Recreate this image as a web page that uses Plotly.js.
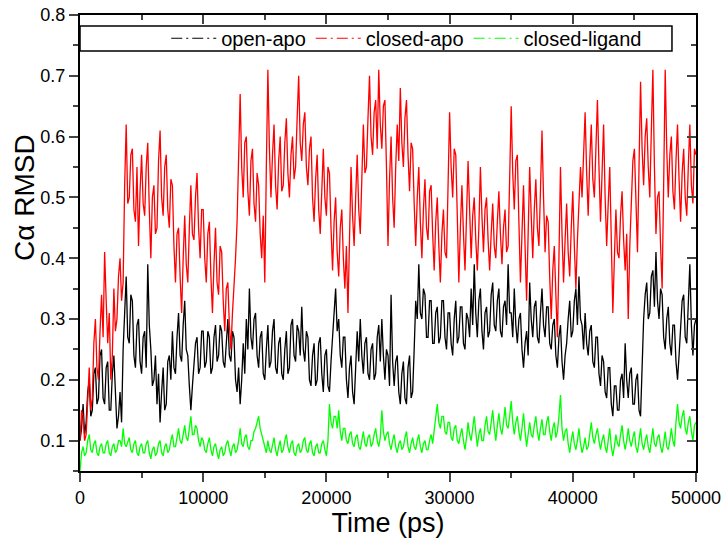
<!DOCTYPE html>
<html>
<head>
<meta charset="utf-8">
<script src="https://cdn.plot.ly/plotly-3.0.1.min.js"></script>
<style>
  body { margin: 0; background: #fff; }
  #the_plot { width: 726px; height: 550px; }
</style>
</head>
<body>
<div id="the_plot"></div>
<script>
// sampling step of the readings (ps)
var step = 125

// values, one every 125 ps from 0 to 50000 (one line = 5000 ps)
var openApo = [
  0.10,0.12,0.16,0.11,0.13,0.18,0.20,0.14,0.15,0.21,0.22,0.16,0.17,0.24,0.25,0.17,0.16,0.22,0.23,0.15,0.15,0.21,0.24,0.17,0.12,0.14,0.18,0.13,0.25,0.31,0.37,0.27,0.26,0.34,0.33,0.24,0.22,0.29,0.30,0.23,
  0.21,0.27,0.28,0.22,0.39,0.29,0.25,0.19,0.20,0.24,0.16,0.21,0.13,0.18,0.22,0.15,0.16,0.23,0.24,0.20,0.28,0.22,0.21,0.27,0.31,0.24,0.23,0.29,0.33,0.25,0.24,0.19,0.15,0.19,0.22,0.26,0.27,0.21,0.22,0.28,
  0.28,0.22,0.23,0.28,0.27,0.21,0.22,0.27,0.29,0.23,0.24,0.29,0.28,0.23,0.22,0.27,0.30,0.24,0.23,0.28,0.27,0.20,0.18,0.22,0.16,0.20,0.26,0.21,0.30,0.25,0.35,0.27,0.25,0.30,0.31,0.24,0.22,0.27,0.28,0.21,
  0.20,0.25,0.29,0.22,0.23,0.28,0.30,0.22,0.21,0.26,0.27,0.21,0.20,0.25,0.28,0.21,0.22,0.29,0.30,0.24,0.23,0.29,0.28,0.24,0.32,0.25,0.23,0.28,0.27,0.20,0.19,0.24,0.26,0.19,0.20,0.26,0.27,0.21,0.18,0.24,
  0.25,0.19,0.18,0.23,0.27,0.31,0.35,0.28,0.30,0.24,0.22,0.27,0.27,0.20,0.17,0.22,0.24,0.18,0.16,0.22,0.28,0.23,0.30,0.24,0.21,0.26,0.27,0.21,0.20,0.25,0.26,0.20,0.21,0.27,0.29,0.23,0.30,0.24,0.20,0.25,
  0.24,0.19,0.34,0.23,0.19,0.23,0.24,0.18,0.16,0.21,0.23,0.17,0.16,0.22,0.24,0.17,0.18,0.25,0.33,0.30,0.39,0.31,0.30,0.35,0.34,0.27,0.27,0.33,0.33,0.26,0.26,0.31,0.32,0.26,0.27,0.33,0.33,0.27,0.25,0.31,
  0.31,0.26,0.24,0.30,0.33,0.26,0.27,0.32,0.32,0.26,0.25,0.31,0.30,0.27,0.35,0.29,0.39,0.31,0.27,0.33,0.35,0.28,0.25,0.31,0.32,0.27,0.28,0.34,0.36,0.29,0.28,0.33,0.35,0.28,0.27,0.32,0.33,0.29,0.39,0.31,
  0.31,0.27,0.35,0.29,0.26,0.30,0.31,0.25,0.22,0.26,0.28,0.24,0.36,0.30,0.27,0.32,0.33,0.27,0.26,0.31,0.35,0.29,0.27,0.32,0.32,0.26,0.25,0.29,0.30,0.24,0.22,0.27,0.29,0.23,0.20,0.24,0.26,0.30,0.33,0.27,
  0.28,0.33,0.35,0.29,0.37,0.30,0.29,0.25,0.31,0.26,0.24,0.28,0.29,0.23,0.22,0.27,0.27,0.21,0.19,0.24,0.23,0.18,0.17,0.22,0.22,0.16,0.14,0.19,0.19,0.15,0.15,0.20,0.21,0.17,0.26,0.20,0.17,0.21,0.22,0.16,
  0.16,0.20,0.21,0.15,0.14,0.22,0.30,0.34,0.36,0.30,0.31,0.37,0.38,0.32,0.41,0.33,0.30,0.35,0.34,0.27,0.25,0.30,0.32,0.26,0.24,0.29,0.29,0.23,0.20,0.24,0.28,0.33,0.34,0.27,0.26,0.32,0.39,0.29,0.24,0.29,
  0.30
]
var closedApo = [
  0.10,0.15,0.14,0.10,0.11,0.18,0.22,0.15,0.17,0.26,0.30,0.22,0.20,0.28,0.34,0.27,0.41,0.33,0.26,0.31,0.20,0.24,0.35,0.28,0.30,0.37,0.40,0.33,0.36,0.52,0.62,0.49,0.50,0.57,0.58,0.48,0.46,0.55,0.42,0.51,
  0.57,0.49,0.47,0.55,0.59,0.48,0.40,0.50,0.52,0.44,0.45,0.56,0.61,0.50,0.47,0.55,0.57,0.48,0.45,0.53,0.52,0.42,0.36,0.44,0.45,0.37,0.31,0.40,0.47,0.39,0.36,0.45,0.52,0.44,0.43,0.50,0.54,0.45,0.40,0.48,
  0.48,0.40,0.36,0.44,0.46,0.37,0.31,0.39,0.45,0.36,0.34,0.42,0.41,0.33,0.28,0.35,0.36,0.29,0.25,0.31,0.35,0.40,0.46,0.58,0.67,0.55,0.50,0.59,0.60,0.51,0.47,0.56,0.58,0.49,0.46,0.54,0.52,0.44,0.40,0.47,
  0.36,0.55,0.71,0.58,0.50,0.57,0.62,0.52,0.48,0.56,0.60,0.51,0.52,0.59,0.63,0.54,0.50,0.57,0.60,0.53,0.55,0.63,0.70,0.59,0.56,0.62,0.64,0.55,0.52,0.58,0.60,0.50,0.46,0.53,0.57,0.48,0.44,0.51,0.58,0.50,
  0.47,0.55,0.54,0.45,0.38,0.46,0.50,0.41,0.37,0.45,0.48,0.40,0.35,0.42,0.31,0.43,0.55,0.47,0.42,0.50,0.57,0.48,0.44,0.53,0.62,0.54,0.55,0.63,0.70,0.60,0.57,0.64,0.66,0.58,0.71,0.62,0.58,0.65,0.66,0.55,
  0.42,0.53,0.60,0.50,0.45,0.55,0.62,0.56,0.68,0.59,0.55,0.63,0.66,0.57,0.51,0.59,0.58,0.49,0.42,0.50,0.55,0.46,0.40,0.48,0.53,0.45,0.43,0.51,0.52,0.44,0.38,0.46,0.50,0.42,0.36,0.44,0.48,0.41,0.40,0.52,
  0.64,0.55,0.50,0.58,0.57,0.47,0.36,0.45,0.52,0.44,0.38,0.47,0.56,0.48,0.40,0.47,0.50,0.43,0.38,0.45,0.55,0.47,0.41,0.48,0.50,0.43,0.38,0.44,0.49,0.42,0.40,0.46,0.51,0.44,0.39,0.45,0.48,0.41,0.42,0.53,
  0.65,0.54,0.48,0.56,0.57,0.46,0.36,0.44,0.52,0.42,0.33,0.44,0.55,0.47,0.40,0.48,0.53,0.45,0.42,0.51,0.61,0.50,0.41,0.47,0.46,0.37,0.30,0.38,0.42,0.34,0.27,0.40,0.55,0.44,0.36,0.43,0.49,0.41,0.37,0.45,
  0.51,0.42,0.35,0.43,0.48,0.55,0.50,0.58,0.64,0.54,0.47,0.56,0.62,0.53,0.50,0.58,0.66,0.55,0.46,0.54,0.62,0.50,0.42,0.49,0.55,0.43,0.31,0.40,0.48,0.41,0.40,0.47,0.51,0.43,0.38,0.44,0.30,0.42,0.50,0.56,
  0.58,0.48,0.41,0.55,0.69,0.58,0.52,0.60,0.63,0.55,0.50,0.61,0.71,0.55,0.44,0.50,0.51,0.42,0.35,0.52,0.71,0.58,0.50,0.57,0.60,0.51,0.48,0.56,0.62,0.53,0.46,0.54,0.58,0.50,0.47,0.55,0.62,0.52,0.49,0.58,
  0.57
]
var closedLigand = [
  0.05,0.08,0.09,0.075,0.08,0.10,0.11,0.085,0.08,0.095,0.10,0.08,0.075,0.09,0.095,0.08,0.08,0.095,0.10,0.08,0.075,0.09,0.095,0.08,0.085,0.10,0.10,0.09,0.12,0.095,0.09,0.10,0.105,0.085,0.08,0.095,0.10,0.08,0.075,0.09,
  0.095,0.08,0.08,0.095,0.10,0.08,0.07,0.085,0.09,0.075,0.08,0.095,0.10,0.08,0.075,0.09,0.095,0.08,0.085,0.10,0.11,0.09,0.09,0.105,0.12,0.10,0.095,0.11,0.125,0.105,0.10,0.12,0.14,0.11,0.11,0.125,0.12,0.10,0.09,0.105,
  0.10,0.085,0.08,0.095,0.105,0.085,0.075,0.09,0.095,0.08,0.07,0.085,0.09,0.075,0.08,0.095,0.10,0.085,0.075,0.09,0.095,0.08,0.085,0.10,0.12,0.095,0.09,0.105,0.11,0.09,0.085,0.10,0.10,0.115,0.12,0.13,0.14,0.12,0.11,0.095,
  0.09,0.08,0.10,0.085,0.08,0.095,0.105,0.085,0.075,0.09,0.10,0.08,0.085,0.10,0.11,0.09,0.08,0.095,0.10,0.08,0.075,0.09,0.095,0.08,0.085,0.10,0.105,0.085,0.08,0.095,0.10,0.08,0.075,0.09,0.095,0.08,0.08,0.095,0.10,0.085,
  0.075,0.10,0.16,0.13,0.12,0.14,0.14,0.12,0.15,0.115,0.10,0.12,0.12,0.10,0.095,0.11,0.115,0.095,0.09,0.105,0.11,0.09,0.085,0.10,0.115,0.095,0.09,0.105,0.11,0.09,0.095,0.11,0.12,0.10,0.09,0.105,0.15,0.115,0.10,0.11,
  0.115,0.095,0.085,0.10,0.11,0.09,0.08,0.095,0.10,0.085,0.09,0.105,0.115,0.09,0.08,0.095,0.105,0.09,0.085,0.10,0.11,0.09,0.08,0.095,0.10,0.085,0.085,0.10,0.11,0.095,0.12,0.14,0.16,0.13,0.12,0.14,0.14,0.115,0.11,0.13,
  0.13,0.105,0.10,0.12,0.125,0.10,0.095,0.11,0.12,0.10,0.085,0.105,0.13,0.11,0.10,0.12,0.14,0.115,0.09,0.11,0.12,0.10,0.10,0.125,0.14,0.115,0.11,0.13,0.15,0.12,0.10,0.125,0.145,0.12,0.11,0.13,0.155,0.125,0.12,0.14,
  0.165,0.13,0.11,0.13,0.14,0.115,0.10,0.12,0.145,0.115,0.09,0.11,0.13,0.11,0.105,0.125,0.14,0.115,0.10,0.12,0.135,0.11,0.11,0.13,0.14,0.115,0.10,0.12,0.13,0.105,0.115,0.14,0.175,0.12,0.10,0.115,0.12,0.095,0.08,0.10,
  0.115,0.095,0.085,0.10,0.12,0.095,0.08,0.09,0.105,0.085,0.09,0.11,0.13,0.105,0.095,0.11,0.12,0.10,0.085,0.10,0.11,0.09,0.08,0.10,0.12,0.09,0.075,0.09,0.11,0.095,0.09,0.11,0.125,0.10,0.085,0.10,0.12,0.10,0.09,0.105,
  0.115,0.09,0.08,0.10,0.12,0.095,0.085,0.10,0.11,0.09,0.08,0.10,0.12,0.095,0.09,0.105,0.11,0.09,0.08,0.095,0.115,0.09,0.085,0.10,0.12,0.10,0.09,0.13,0.16,0.13,0.12,0.14,0.15,0.12,0.11,0.13,0.14,0.115,0.10,0.125,
  0.13
]

var names = ["open-apo", "closed-apo", "closed-ligand"]
var colors = ["#000000", "#ff0000", "#00ff00"]
var series = [openApo, closedApo, closedLigand]

var times = []
for (var i = 0; i < openApo.length; i++) {
    times.push(i * step)
}

var font = "Arial, 'Liberation Sans', sans-serif"

function setup_plot() {
    var data = []
    // real curves, solid
    for (var k = 0; k < series.length; k++) {
        data.push({x: times, y: series[k], mode: "lines", showlegend: false,
                   line: {color: colors[k], width: 1.3}})
    }
    // legend entries drawn dash-dot like the original
    for (var k = 0; k < series.length; k++) {
        data.push({x: [null], y: [null], mode: "lines", name: names[k],
                   line: {color: colors[k], width: 1, dash: "11px,4px,2px,4px"}})
    }
    // empty trace so the top/right mirror axes are drawn
    data.push({x: [], y: [], xaxis: "x2", yaxis: "y2", showlegend: false})

    var layout = {
        width: 726, height: 550,
        margin: {l: 80, r: 30, t: 15, b: 79},
        paper_bgcolor: "#fff", plot_bgcolor: "#fff",
        font: {family: font, size: 18, color: "#000"},
        showlegend: true,
        legend: {orientation: "h", x: 0.14, y: 0.949, xanchor: "left", yanchor: "middle",
                 bgcolor: "rgba(0,0,0,0)", font: {size: 20}, itemwidth: 45},
        xaxis: {range: [0, 50000], tickvals: [0, 10000, 20000, 30000, 40000, 50000], tickformat: "d",
                ticks: "outside", ticklen: 9, tickwidth: 1.5, showgrid: false, zeroline: false,
                showline: true, linewidth: 2, linecolor: "#000",
                minor: {dtick: 5000, ticks: "outside", ticklen: 5, tickwidth: 1.5},
                title: {text: "Time (ps)", font: {size: 27}, standoff: 5}},
        yaxis: {range: [0.05, 0.8], dtick: 0.1, tick0: 0, tickformat: ".1f",
                ticks: "outside", ticklen: 9, tickwidth: 1.5, showgrid: false, zeroline: false,
                showline: true, linewidth: 2, linecolor: "#000",
                minor: {dtick: 0.05, ticks: "outside", ticklen: 5, tickwidth: 1.5}},
        xaxis2: {overlaying: "x", side: "top", anchor: "y", range: [0, 50000], dtick: 10000,
                 ticks: "inside", ticklen: 9, tickwidth: 1.5, showticklabels: false,
                 showgrid: false, zeroline: false, showline: true, linewidth: 2, linecolor: "#000",
                 minor: {dtick: 5000, ticks: "inside", ticklen: 5, tickwidth: 1.5}},
        yaxis2: {overlaying: "y", side: "right", anchor: "x", range: [0.05, 0.8], dtick: 0.1, tick0: 0,
                 ticks: "inside", ticklen: 9, tickwidth: 1.5, showticklabels: false,
                 showgrid: false, zeroline: false, showline: true, linewidth: 2, linecolor: "#000",
                 minor: {dtick: 0.05, ticks: "inside", ticklen: 5, tickwidth: 1.5}},
        shapes: [{type: "rect", xref: "paper", yref: "paper", x0: 0, x1: 0.961, y0: 0.921, y1: 0.976,
                  line: {color: "#000", width: 1.5}, fillcolor: "#fff", layer: "below"}],
        annotations: [{text: "C\u03b1 RMSD", textangle: -90, xref: "paper", yref: "paper",
                       x: -0.09, y: 0.6, xanchor: "center", yanchor: "middle", showarrow: false,
                       font: {size: 28}}]
    }
    Plotly.newPlot("the_plot", data, layout, {displayModeBar: false})
}

window.addEventListener("load", setup_plot)
</script>
</body>
</html>
